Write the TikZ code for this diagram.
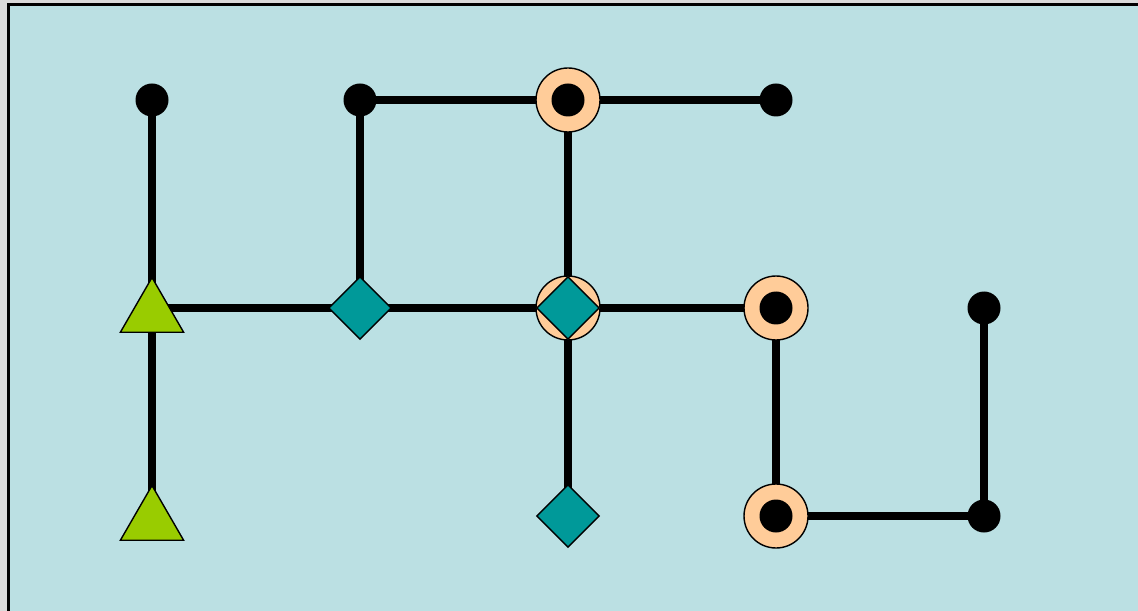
\documentclass[tikz,border=0pt]{standalone}
\usepackage{xcolor}
\usepackage{tikz}
\usetikzlibrary{positioning,shapes.geometric}
\definecolor{panelblue}{RGB}{187,224,227}
\definecolor{framegray}{RGB}{218,218,218}
\definecolor{ringorange}{RGB}{255,204,153}
\definecolor{gemteal}{RGB}{0,153,153}
\definecolor{tipgreen}{RGB}{153,204,0}
\pgfdeclarelayer{bg}
\pgfdeclarelayer{wire}
\pgfsetlayers{bg,wire,main}

\begin{document}
\begin{tikzpicture}[
    node distance=4.16cm, on grid,
    dot/.style={circle, fill=black, inner sep=0pt, minimum size=0.66cm},
    ring/.style={circle, draw=black, line width=0.8pt, fill=ringorange, inner sep=0pt,
                 minimum size=1.28cm},
    hub/.style={ring, path picture={\fill[black] (path picture bounding box.center) circle (0.33cm);}},
    gem/.style={diamond, draw=black, line width=0.8pt, fill=gemteal, inner sep=0pt,
                minimum width=1.26cm, minimum height=1.26cm},
    tip/.style={regular polygon, regular polygon sides=3, draw=black, line width=0.8pt,
                fill=tipgreen, inner sep=0pt, minimum size=1.46cm},
    wire/.style={line width=0.15cm}
]
\clip (0,0) rectangle (22.76,-12.22);
\begin{pgfonlayer}{bg}
  \fill[framegray] (0,0) rectangle (22.76,-12.22);
  \draw[fill=panelblue, line width=0.05cm] (0.17,-0.09) rectangle (23.5,-13);
\end{pgfonlayer}

% top row
\node[dot] (a1) at (3.04,-2) {};
\node[dot, right=of a1] (a2) {};
\node[hub, right=of a2] (a3) {};
\node[dot, right=of a3] (a4) {};
% middle row
\node[tip, below=of a1, yshift=-0.12cm] (b1) {};
\node[gem, below=of a2] (b2) {};
\node[ring, below=of a3] (b3) {};
\node[gem] (b3g) at (b3) {};
\node[hub, below=of a4] (b4) {};
\node[dot, right=of b4] (b5) {};
% bottom row
\node[tip, below=of b1] (c1) {};
\node[gem, below=of b3] (c3) {};
\node[hub, below=of b4] (c4) {};
\node[dot, below=of b5] (c5) {};

\begin{pgfonlayer}{wire}
  \draw[wire] (a1.center) -- (b1.center) -- (c1.center);
  \draw[wire] (b2.center -| b1.center) -- (b2.center) -- (b3.center) -- (b4.center);
  \draw[wire] (a2.center) -- (a3.center) -- (a4.center);
  \draw[wire] (a2.center) -- (b2.center);
  \draw[wire] (a3.center) -- (b3.center) -- (c3.center);
  \draw[wire] (b4.center) -- (c4.center) -- (c5.center) -- (b5.center);
\end{pgfonlayer}
\end{tikzpicture}
\end{document}
